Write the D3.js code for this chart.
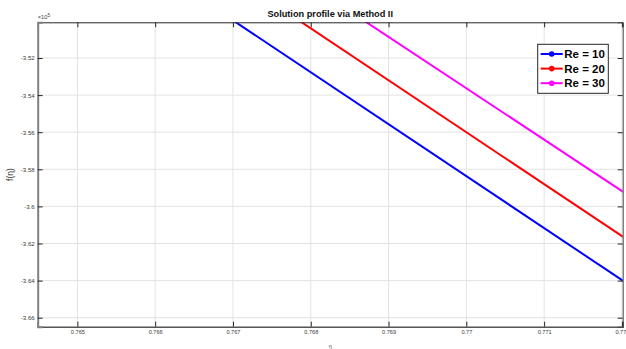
<!DOCTYPE html>
<html>
<head>
<meta charset="utf-8">
<script src="https://cdn.jsdelivr.net/npm/d3@7"></script>
<style>
  html, body { margin: 0; padding: 0; background: #fff; overflow: hidden; }
  svg { display: block; font-family: "Liberation Sans", Arial, Helvetica, sans-serif; }
</style>
</head>
<body>
<svg id="chart" width="626" height="349"></svg>
<script>
// Sample points of f(eta) for each Reynolds number
const eta = [0.764, 0.773];
const fRe10 = [-341570, -366770];
const fRe20 = [-339200, -364400];
const fRe30 = [-337010, -361940];

const seriesNames = ["Re = 10", "Re = 20", "Re = 30"];
const seriesColors = ["#0000ff", "#ff0000", "#ff00ff"];

const xTicks = [0.765, 0.766, 0.767, 0.768, 0.769, 0.77, 0.771, 0.772];
const yTicks = [-352000, -354000, -356000, -358000, -360000, -362000, -364000, -366000];
const xDomain = [0.76449, 0.77201];
const yDomain = [-366485, -350075];
const yExponent = 5;

const series = [fRe10, fRe20, fRe30].map((vals, i) => ({
  name: seriesNames[i],
  color: seriesColors[i],
  points: eta.map((e, j) => ({ x: e, y: vals[j] }))
}));

const svg = d3.select("#chart");
const m = { left: 37.7, right: 622.7, top: 22.3, bottom: 326.7 };

const x = d3.scaleLinear().domain(xDomain).range([m.left, m.right]);
const y = d3.scaleLinear().domain(yDomain).range([m.bottom, m.top]);

// Grid
const grid = svg.append("g").attr("stroke", "#e3e3e3").attr("stroke-width", 1);
grid.selectAll("line.vx").data(xTicks).join("line")
  .attr("x1", d => x(d)).attr("x2", d => x(d))
  .attr("y1", m.top).attr("y2", m.bottom);
grid.selectAll("line.hy").data(yTicks).join("line")
  .attr("x1", m.left).attr("x2", m.right)
  .attr("y1", d => y(d)).attr("y2", d => y(d));

// Clip region for the data
svg.append("clipPath").attr("id", "plotClip")
  .append("rect").attr("x", m.left).attr("y", m.top)
  .attr("width", m.right - m.left).attr("height", m.bottom - m.top);

const line = d3.line().x(d => x(d.x)).y(d => y(d.y));
const plot = svg.append("g").attr("clip-path", "url(#plotClip)");
series.forEach(s => {
  plot.append("path").datum(s.points)
    .attr("d", line).attr("fill", "none")
    .attr("stroke", s.color).attr("stroke-width", 2);
  plot.selectAll(null).data(s.points).join("circle")
    .attr("cx", d => x(d.x)).attr("cy", d => y(d.y)).attr("r", 3)
    .attr("fill", s.color);
});

// Axes (ticks pointing inward, box style)
const tickLen = 5;
const fmtY = v => String(+(v / Math.pow(10, yExponent)).toFixed(2));

const axB = svg.append("g").attr("transform", `translate(0,${m.bottom})`)
  .call(d3.axisBottom(x).tickValues(xTicks).tickSize(-tickLen).tickPadding(3).tickFormat(d => String(d)));
const axT = svg.append("g").attr("transform", `translate(0,${m.top})`)
  .call(d3.axisTop(x).tickValues(xTicks).tickSize(-tickLen).tickFormat(""));
const axL = svg.append("g").attr("transform", `translate(${m.left},0)`)
  .call(d3.axisLeft(y).tickValues(yTicks).tickSize(-tickLen).tickPadding(3).tickFormat(fmtY));
const axR = svg.append("g").attr("transform", `translate(${m.right},0)`)
  .call(d3.axisRight(y).tickValues(yTicks).tickSize(-tickLen).tickFormat(""));

[axB, axT, axL, axR].forEach(g => {
  g.selectAll(".tick line").attr("stroke", "#262626").attr("stroke-width", 1);
  g.selectAll("text").attr("fill", "#3a3a3a").attr("font-family", "Liberation Sans, Arial, sans-serif");
});
axB.selectAll("text").attr("font-size", 5.6);
axL.selectAll("text").attr("font-size", 6.1);
axB.select(".domain").attr("stroke", "#555").attr("stroke-width", 1.5);
axT.select(".domain").attr("stroke", "#262626").attr("stroke-width", 1);
axL.select(".domain").attr("stroke", "#808080").attr("stroke-width", 2);
axR.select(".domain").attr("stroke", "#444").attr("stroke-width", 1);

// Exponent marker for the y axis
const expLabel = svg.append("text").attr("x", m.left).attr("y", 19)
  .attr("font-size", 5.8).attr("fill", "#444");
expLabel.append("tspan").text("\u00d710");
expLabel.append("tspan").attr("dy", -2.5).attr("font-size", 4.8).text(String(yExponent));

// Title and axis labels
svg.append("text").attr("x", (m.left + m.right) / 2).attr("y", 17.3)
  .attr("text-anchor", "middle").attr("font-weight", "bold").attr("font-size", 9.2)
  .attr("fill", "#111").text("Solution profile via Method II");

svg.append("text").attr("transform", `translate(13,${(m.top + m.bottom) / 2}) rotate(-90)`)
  .attr("text-anchor", "middle").attr("font-size", 8.5).attr("fill", "#333")
  .text("f(\u03b7)");

svg.append("text").attr("x", (m.left + m.right) / 2).attr("y", 348)
  .attr("text-anchor", "middle").attr("font-size", 5.5).attr("fill", "#444")
  .text("\u03b7");

// Legend
const lg = svg.append("g").attr("transform", "translate(537.7,44.3)");
lg.append("rect").attr("width", 70.6).attr("height", 49).attr("fill", "#fff")
  .attr("stroke", "#262626").attr("stroke-width", 1);
series.forEach((s, i) => {
  const yy = 9.7 + i * 14.6;
  lg.append("line").attr("x1", 3).attr("x2", 25).attr("y1", yy).attr("y2", yy)
    .attr("stroke", s.color).attr("stroke-width", 2);
  lg.append("circle").attr("cx", 14).attr("cy", yy).attr("r", 2.8).attr("fill", s.color);
  lg.append("text").attr("x", 26.6).attr("y", yy).attr("dy", "0.36em")
    .attr("font-size", 11.5).attr("font-weight", "bold").attr("fill", "#000")
    .text(s.name);
});
</script>
</body>
</html>
